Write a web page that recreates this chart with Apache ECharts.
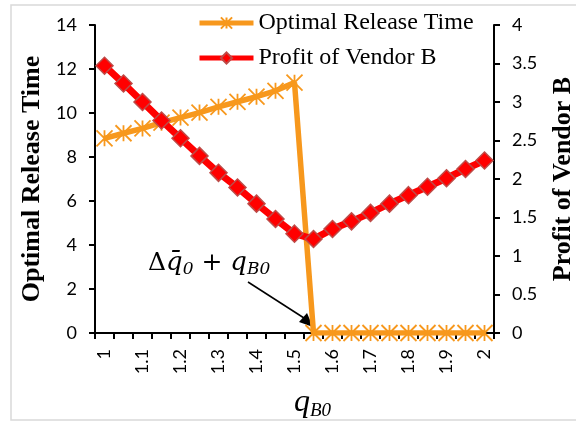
<!DOCTYPE html>
<html>
<head>
<meta charset="utf-8">
<script src="https://cdn.jsdelivr.net/npm/echarts@6/dist/echarts.min.js"></script>
<style>html,body{margin:0;padding:0;background:#fff;}#c{width:576px;height:423px;}</style>
</head>
<body>
<div id="c"></div>
<script>
const categories = ['1','1.05','1.1','1.15','1.2','1.25','1.3','1.35','1.4','1.45','1.5','1.55','1.6','1.65','1.7','1.75','1.8','1.85','1.9','1.95','2'];
const releaseTime = [8.85, 9.08, 9.30, 9.56, 9.79, 10.02, 10.28, 10.51, 10.74, 11.01, 11.38, 0, 0, 0, 0, 0, 0, 0, 0, 0, 0];
const profitB = [3.47, 3.24, 3.00, 2.76, 2.53, 2.30, 2.08, 1.89, 1.68, 1.48, 1.29, 1.22, 1.35, 1.45, 1.56, 1.68, 1.79, 1.90, 2.01, 2.13, 2.24];
const leftTicks = {min: 0, max: 14, interval: 2};
const rightTicks = {min: 0, max: 4, interval: 0.5};

const ORANGE = '#f7981d';
const RED = '#ff0000';
const RED_EDGE = '#be4b48';
const serif = 'Liberation Serif';
const mathSerif = 'DejaVu Serif';
const sans = 'Lato';
const starPath = 'path://M5,0L5,10M0,0L10,10M0,10L10,0';

const chart = echarts.init(document.getElementById('c'), null, {renderer: 'canvas'});
chart.setOption({
  animation: false,
  backgroundColor: '#fff',
  grid: {left: 95, right: 82, top: 25, bottom: 90, containLabel: false, outerBoundsMode: 'none'},
  legend: {
    orient: 'vertical', left: 197, top: 11, padding: 0, itemWidth: 54, itemHeight: 14, itemGap: 11,
    lineStyle: {width: 5},
    textStyle: {fontFamily: serif, fontSize: 24, color: '#000', padding: [0, 0, 0, 0]},
    data: ['Optimal Release Time', 'Profit of Vendor B']
  },
  xAxis: {
    type: 'category', data: categories, boundaryGap: true,
    name: '{q|q}{s|B0}', nameLocation: 'middle', nameGap: 53,
    nameTextStyle: {
      padding: [0, 0, 0, 36],
      rich: {
        q: {fontFamily: serif, fontStyle: 'italic', fontSize: 32, lineHeight: 34, verticalAlign: 'middle', color: '#000'},
        s: {fontFamily: serif, fontStyle: 'italic', fontSize: 19, lineHeight: 14, verticalAlign: 'bottom', color: '#000'}
      }
    },
    axisLine: {lineStyle: {color: '#000', width: 2}},
    axisTick: {show: true, interval: 0, length: 6, lineStyle: {color: '#000', width: 2}},
    axisLabel: {interval: 1, rotate: 90, margin: 16, fontFamily: sans, fontSize: 18, color: '#000'},
    splitLine: {show: false}
  },
  yAxis: [{
    type: 'value', min: leftTicks.min, max: leftTicks.max, interval: leftTicks.interval, position: 'left',
    name: 'Optimal Release Time', nameLocation: 'middle', nameGap: 50, nameRotate: 90,
    nameTextStyle: {fontFamily: serif, fontWeight: 'bold', fontSize: 26, color: '#000'},
    axisLine: {show: true, lineStyle: {color: '#000', width: 2}},
    axisTick: {show: true, length: 6, lineStyle: {color: '#000', width: 2}},
    axisLabel: {margin: 18, fontFamily: sans, fontSize: 18, color: '#000'},
    splitLine: {show: false}
  }, {
    type: 'value', min: rightTicks.min, max: rightTicks.max, interval: rightTicks.interval, position: 'right',
    name: 'Profit of Vendor B', nameLocation: 'middle', nameGap: 56, nameRotate: 90,
    nameTextStyle: {fontFamily: serif, fontWeight: 'bold', fontSize: 26, color: '#000'},
    axisLine: {show: true, lineStyle: {color: '#000', width: 2}},
    axisTick: {show: true, length: 6, lineStyle: {color: '#000', width: 2}},
    axisLabel: {margin: 18, fontFamily: sans, fontSize: 18, color: '#000'},
    splitLine: {show: false}
  }],
  series: [{
    name: 'Optimal Release Time', type: 'line', yAxisIndex: 0, data: releaseTime,
    symbol: starPath, symbolSize: 16, showAllSymbol: true,
    lineStyle: {color: ORANGE, width: 5.5},
    itemStyle: {color: 'none', borderColor: ORANGE, borderWidth: 1.8},
    z: 2
  }, {
    name: 'Profit of Vendor B', type: 'line', yAxisIndex: 1, data: profitB,
    symbol: 'diamond', symbolSize: 17, showAllSymbol: true,
    lineStyle: {color: RED, width: 7},
    itemStyle: {color: RED, borderColor: RED_EDGE, borderWidth: 1.5},
    z: 3
  }],
  graphic: [
    {type: 'rect', shape: {x: 11, y: 5, width: 570, height: 415}, style: {fill: 'none', stroke: '#d9d9d9', lineWidth: 1.5}, silent: true, z: -1},
    {type: 'text', left: 148, top: 250, style: {
      text: '{d|Δ}{q|q̄}{s|0}{p| + }{q|q}{s|B0}',
      rich: {
        d: {fontFamily: mathSerif, fontSize: 25, lineHeight: 30, verticalAlign: 'middle', fill: '#000'},
        q: {fontFamily: mathSerif, fontStyle: 'italic', fontSize: 26, lineHeight: 30, verticalAlign: 'middle', fill: '#000'},
        s: {fontFamily: mathSerif, fontStyle: 'italic', fontSize: 17, lineHeight: 14, verticalAlign: 'bottom', fill: '#000'},
        p: {fontFamily: mathSerif, fontSize: 25, lineHeight: 30, verticalAlign: 'middle', fill: '#000'}
      }
    }},
    {type: 'line', shape: {x1: 248, y1: 282, x2: 304, y2: 318}, style: {stroke: '#000', lineWidth: 1.5}},
    {type: 'polygon', shape: {points: [[313, 327], [299, 322], [307, 313]]}, style: {fill: '#000'}}
  ]
});
</script>
</body>
</html>
